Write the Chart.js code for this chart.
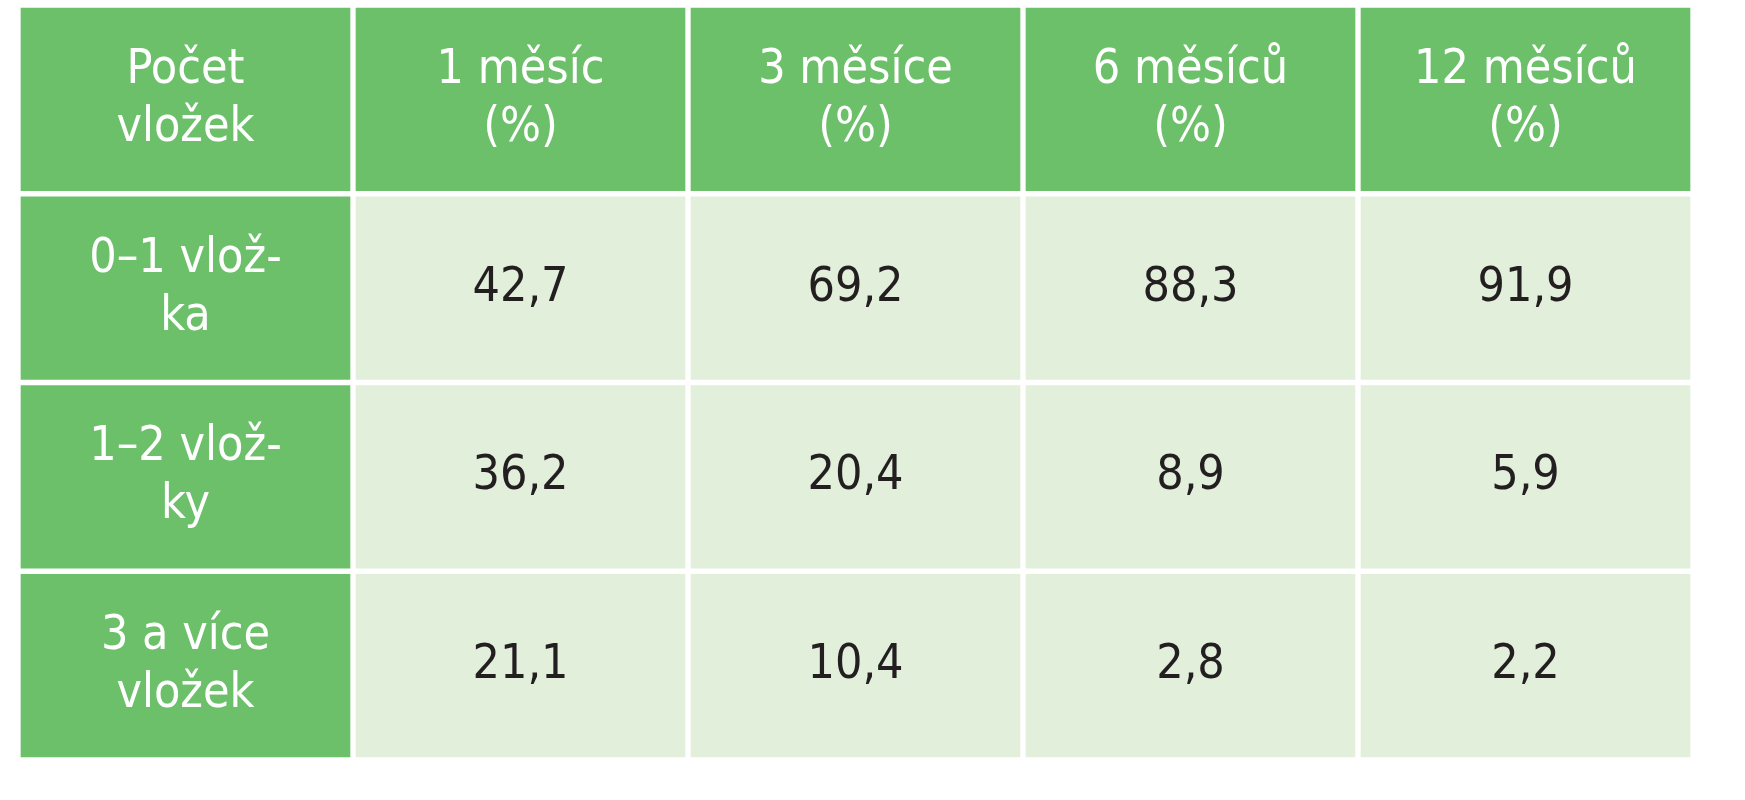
<!DOCTYPE html>
<html>
<head>
<meta charset="utf-8">
<script src="https://cdn.jsdelivr.net/npm/chart.js@4/dist/chart.umd.min.js"></script>
<style>
  html, body { margin: 0; background: #fff; }
  #wrap { width: 1745px; height: 800px; }
</style>
</head>
<body>
<div id="wrap"><canvas id="tbl"></canvas></div>
<script>
// Data
const headers = [["Počet", "vložek"], ["1 měsíc", "(%)"], ["3 měsíce", "(%)"], ["6 měsíců", "(%)"], ["12 měsíců", "(%)"]];
const rowLabels = [["0–1 vlož-", "ka"], ["1–2 vlož-", "ky"], ["3 a více", "vložek"]];
const m1 = ["42,7", "36,2", "21,1"];
const m3 = ["69,2", "20,4", "10,4"];
const m6 = ["88,3", "8,9", "2,8"];
const m12 = ["91,9", "5,9", "2,2"];

const rows = ["hdr", "r1", "r2", "r3"];
const valueCols = [m1, m3, m6, m12];

const GREEN = "#6cc06a";
const LIGHT = "#e2efdb";

// one dataset per column, each cell a floating bar [col, col+1]
const datasets = [0, 1, 2, 3, 4].map(c => ({
  data: rows.map(() => [c, c + 1]),
  backgroundColor: rows.map((r, i) => (i === 0 || c === 0) ? GREEN : LIGHT),
  borderColor: "#ffffff",
  borderWidth: 3,
  borderSkipped: false,
  categoryPercentage: 1,
  barPercentage: 1,
  grouped: false
}));

const textPlugin = {
  id: "cellText",
  afterDatasetsDraw(chart) {
    const ctx = chart.ctx;
    const xs = chart.scales.x, ys = chart.scales.y;
    ctx.save();
    ctx.textAlign = "center";
    ctx.textBaseline = "middle";
    ctx.font = "48px 'DejaVu Sans Condensed', 'DejaVu Sans'";
    const lh = 58;
    const draw = (lines, c, r, color) => {
      const x = xs.getPixelForValue(c + 0.5);
      const y = ys.getPixelForValue(r);
      ctx.fillStyle = color;
      lines.forEach((t, k) => ctx.fillText(t, x, y + (k - (lines.length - 1) / 2) * lh));
    };
    headers.forEach((h, c) => draw(h, c, 0, "#ffffff"));
    rowLabels.forEach((l, i) => draw(l, 0, i + 1, "#ffffff"));
    valueCols.forEach((col, c) => col.forEach((v, i) => draw([v], c + 1, i + 1, "#231f20")));
    ctx.restore();
  }
};

new Chart(document.getElementById("tbl"), {
  type: "bar",
  data: { labels: rows, datasets: datasets },
  options: {
    indexAxis: "y",
    responsive: true,
    maintainAspectRatio: false,
    animation: false,
    layout: { padding: { left: 18, right: 52, top: 5, bottom: 40 } },
    plugins: { legend: { display: false }, tooltip: { enabled: false } },
    scales: {
      x: { type: "linear", min: 0, max: 5, display: false },
      y: { type: "category", display: false }
    }
  },
  plugins: [textPlugin]
});
</script>
</body>
</html>
